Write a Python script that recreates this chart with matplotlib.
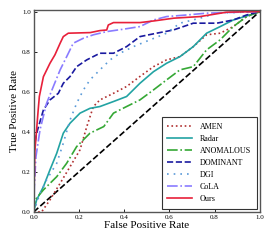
import matplotlib
matplotlib.use('Agg')
import matplotlib.pyplot as plt

plt.rcParams['font.family'] = ['Liberation Serif', 'DejaVu Serif']

# ROC points (fpr, tpr)
amen_x = [0, 0.035, 0.072, 0.117, 0.161, 0.205, 0.235, 0.264, 0.293, 0.353, 0.411, 0.47, 0.53, 0.588, 0.647, 0.706, 0.765, 0.825, 0.883, 0.942, 1.0]
amen_y = [0, 0.0, 0.06, 0.143, 0.226, 0.31, 0.426, 0.526, 0.559, 0.592, 0.626, 0.676, 0.725, 0.759, 0.775, 0.825, 0.884, 0.892, 0.925, 0.975, 1.0]

radar_x = [0, 0.013, 0.043, 0.072, 0.102, 0.131, 0.161, 0.205, 0.249, 0.293, 0.353, 0.411, 0.47, 0.53, 0.588, 0.647, 0.706, 0.765, 0.825, 0.883, 0.957, 1.0]
radar_y = [0, 0.06, 0.126, 0.21, 0.293, 0.393, 0.443, 0.493, 0.517, 0.526, 0.551, 0.576, 0.642, 0.7, 0.742, 0.775, 0.825, 0.892, 0.925, 0.958, 0.983, 1.0]

anom_x = [0, 0.006, 0.043, 0.102, 0.146, 0.19, 0.249, 0.31, 0.353, 0.411, 0.47, 0.53, 0.588, 0.647, 0.706, 0.765, 0.825, 0.883, 0.942, 1.0]
anom_y = [0, 0.06, 0.11, 0.176, 0.243, 0.326, 0.393, 0.426, 0.493, 0.526, 0.559, 0.609, 0.659, 0.709, 0.725, 0.809, 0.859, 0.925, 0.975, 1.0]

dom_x = [0, 0.003, 0.013, 0.043, 0.072, 0.109, 0.131, 0.161, 0.19, 0.235, 0.293, 0.353, 0.411, 0.47, 0.544, 0.618, 0.706, 0.81, 0.883, 0.942, 1.0]
dom_y = [0, 0.326, 0.393, 0.509, 0.559, 0.592, 0.642, 0.676, 0.725, 0.759, 0.792, 0.792, 0.825, 0.875, 0.892, 0.908, 0.942, 0.942, 0.958, 0.983, 1.0]

dgi_x = [0, 0.028, 0.057, 0.102, 0.131, 0.161, 0.19, 0.22, 0.249, 0.293, 0.338, 0.382, 0.441, 0.515, 0.588, 0.647, 0.736, 0.81, 1.0]
dgi_y = [0, 0.093, 0.16, 0.243, 0.343, 0.459, 0.542, 0.609, 0.659, 0.709, 0.759, 0.792, 0.825, 0.859, 0.892, 0.942, 0.967, 0.992, 1.0]

cola_x = [0, 0.003, 0.01, 0.028, 0.057, 0.087, 0.117, 0.146, 0.175, 0.22, 0.264, 0.323, 0.397, 0.47, 0.53, 0.588, 0.677, 0.765, 0.854, 1.0]
cola_y = [0, 0.126, 0.276, 0.41, 0.542, 0.626, 0.709, 0.775, 0.842, 0.867, 0.884, 0.9, 0.912, 0.925, 0.958, 0.975, 0.983, 0.992, 0.995, 1.0]

ours_x = [0, 0.005, 0.02, 0.025, 0.043, 0.072, 0.094, 0.117, 0.131, 0.153, 0.25, 0.293, 0.323, 0.33, 0.353, 0.47, 0.53, 0.62, 0.736, 0.854, 1.0]
ours_y = [0, 0.3, 0.51, 0.576, 0.675, 0.742, 0.784, 0.842, 0.875, 0.892, 0.895, 0.905, 0.908, 0.933, 0.945, 0.945, 0.953, 0.967, 0.975, 0.997, 1.0]

ticks = [0.0, 0.2, 0.4, 0.6, 0.8, 1.0]

fig = plt.figure(figsize=(2.73, 2.45), dpi=100)
ax = fig.add_axes([0.1234, 0.135, 0.828, 0.826])

lw = 1.2
ax.plot([0, 1], [0, 1], color='black', ls='--', lw=lw)
ax.plot(amen_x, amen_y, color='#b03030', ls=':', lw=lw, label='AMEN')
ax.plot(radar_x, radar_y, color='#22a3a3', ls='-', lw=lw, label='Radar')
ax.plot(anom_x, anom_y, color='#35a835', ls='-.', lw=lw, label='ANOMALOUS')
ax.plot(dom_x, dom_y, color='#1a1aa0', ls='--', lw=lw, label='DOMINANT')
ax.plot(dgi_x, dgi_y, color='#5a9ad8', ls=(0, (1, 3)), lw=lw, label='DGI')
ax.plot(cola_x, cola_y, color='#8a7cff', ls='-.', lw=lw, label='CoLA')
ax.plot(ours_x, ours_y, color='#e8203a', ls='-', lw=lw, label='Ours')

ax.set_xlim(0, 1)
ax.set_ylim(0, 1.01)
ax.set_xticks(ticks)
ax.set_yticks(ticks)
ax.tick_params(direction='in', labelsize=5, length=2, width=0.6, pad=2)
for s in ax.spines.values():
    s.set_color('#555555')
    s.set_linewidth(1.0)

ax.set_xlabel('False Positive Rate', fontsize=8, labelpad=1)
ax.set_ylabel('True Positive Rate', fontsize=8, labelpad=2)

leg = ax.legend(loc='lower right', fontsize=5.8, fancybox=False, framealpha=1,
                edgecolor='#333333', handlelength=3.0, labelspacing=0.5,
                borderpad=0.7, handletextpad=1.0, borderaxespad=0.4)
leg.get_frame().set_linewidth(0.8)

fig.savefig('out.png', dpi=100)
